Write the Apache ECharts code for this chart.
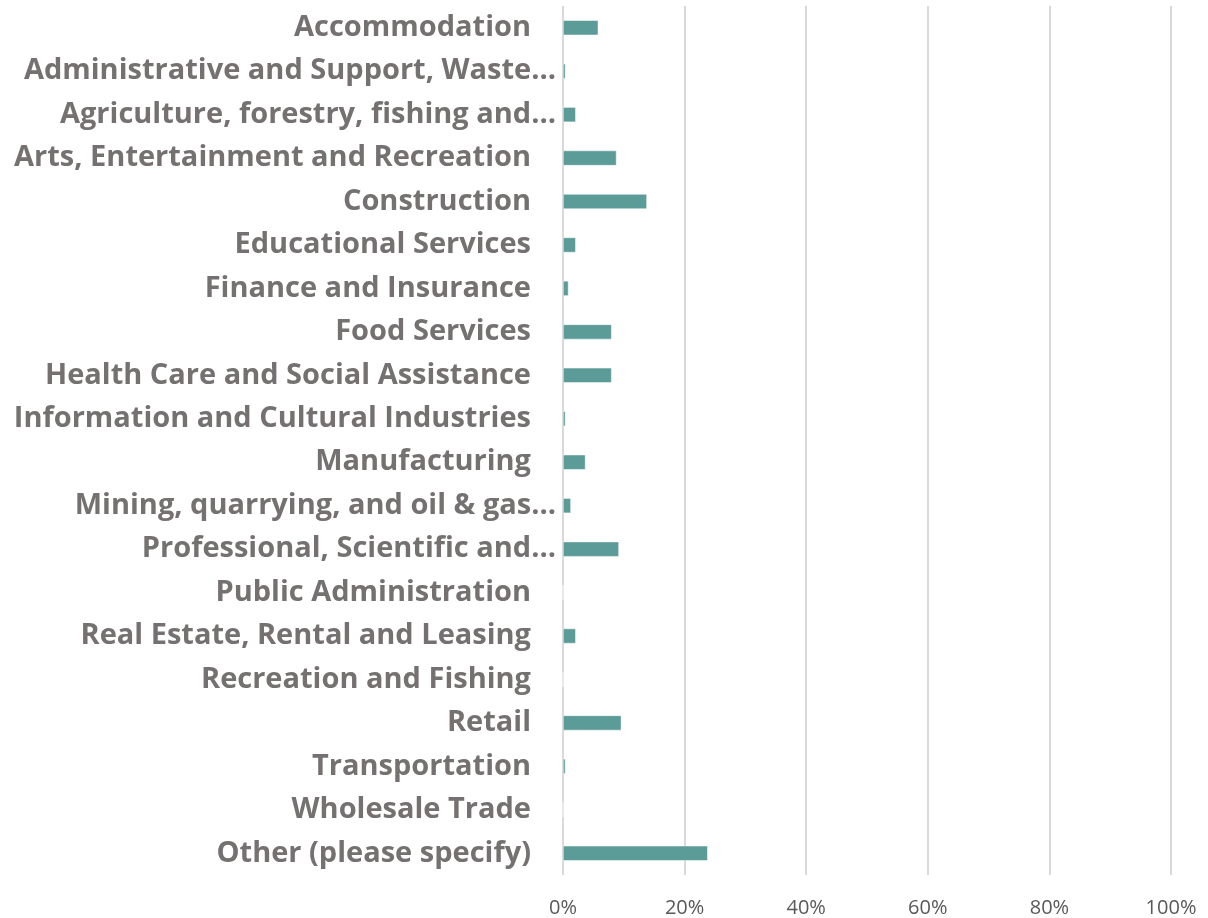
<!DOCTYPE html>
<html>
<head>
<meta charset="utf-8">
<script src="https://cdn.jsdelivr.net/npm/echarts@6/dist/echarts.min.js"></script>
<style>
    html, body { margin: 0; padding: 0; background: #fff; }
    #chart { width: 1208px; height: 918px; }
</style>
</head>
<body>
<div id="chart"></div>
<script>
// categories, top to bottom as in the picture
const categories = [
    'Accommodation',
    'Administrative and Support, Waste…',
    'Agriculture, forestry, fishing and…',
    'Arts, Entertainment and Recreation',
    'Construction',
    'Educational Services',
    'Finance and Insurance',
    'Food Services',
    'Health Care and Social Assistance',
    'Information and Cultural Industries',
    'Manufacturing',
    'Mining, quarrying, and oil & gas…',
    'Professional, Scientific and…',
    'Public Administration',
    'Real Estate, Rental and Leasing',
    'Recreation and Fishing',
    'Retail',
    'Transportation',
    'Wholesale Trade',
    'Other (please specify)',
]

// share of respondents, in percent
const shares = [5.8, 0.4, 2.1, 8.8, 13.8, 2.1, 0.9, 8.0, 8.0, 0.4, 3.7, 1.3, 9.2, 0, 2.1, 0, 9.6, 0.4, 0, 23.8]

const xTicks = [0, 20, 40, 60, 80, 100]

const myChart = echarts.init(document.getElementById('chart'))

const option = {
    animation: false,
    grid: {
        left: 563,
        right: 37,
        top: 6,
        bottom: 43,
        outerBoundsMode: 'none',
    },
    xAxis: {
        type: 'value',
        min: xTicks[0],
        max: xTicks[xTicks.length - 1],
        interval: 20,
        axisLine: { show: false },
        axisTick: { show: false },
        splitLine: {
            lineStyle: { color: '#d9d9d9', width: 2 }
        },
        axisLabel: {
            formatter: '{value}%',
            color: '#595959',
            fontFamily: 'Open Sans',
            fontSize: 20,
            margin: 23,
        },
    },
    yAxis: {
        type: 'category',
        inverse: true,
        data: categories,
        axisLine: { show: false },
        axisTick: { show: false },
        axisLabel: {
            color: '#757171',
            fontFamily: 'Open Sans',
            fontWeight: 'bold',
            fontSize: 29,
            margin: 32,
            // cut-off labels run past the others, like the ellipsis in the original
            formatter: (v) => v.endsWith('…') ? '{cut|' + v + '}' : v,
            rich: {
                cut: {
                    color: '#757171',
                    fontFamily: 'Open Sans',
                    fontWeight: 'bold',
                    fontSize: 29,
                    padding: [0, -25, 0, 0],
                },
            },
        },
    },
    series: [
        {
            type: 'bar',
            data: shares,
            barWidth: 15,
            itemStyle: {
                color: '#5b9b98',
                borderColor: '#ffffff',
                borderWidth: 0.5,
            },
        }
    ]
}

option && myChart.setOption(option)
</script>
</body>
</html>
